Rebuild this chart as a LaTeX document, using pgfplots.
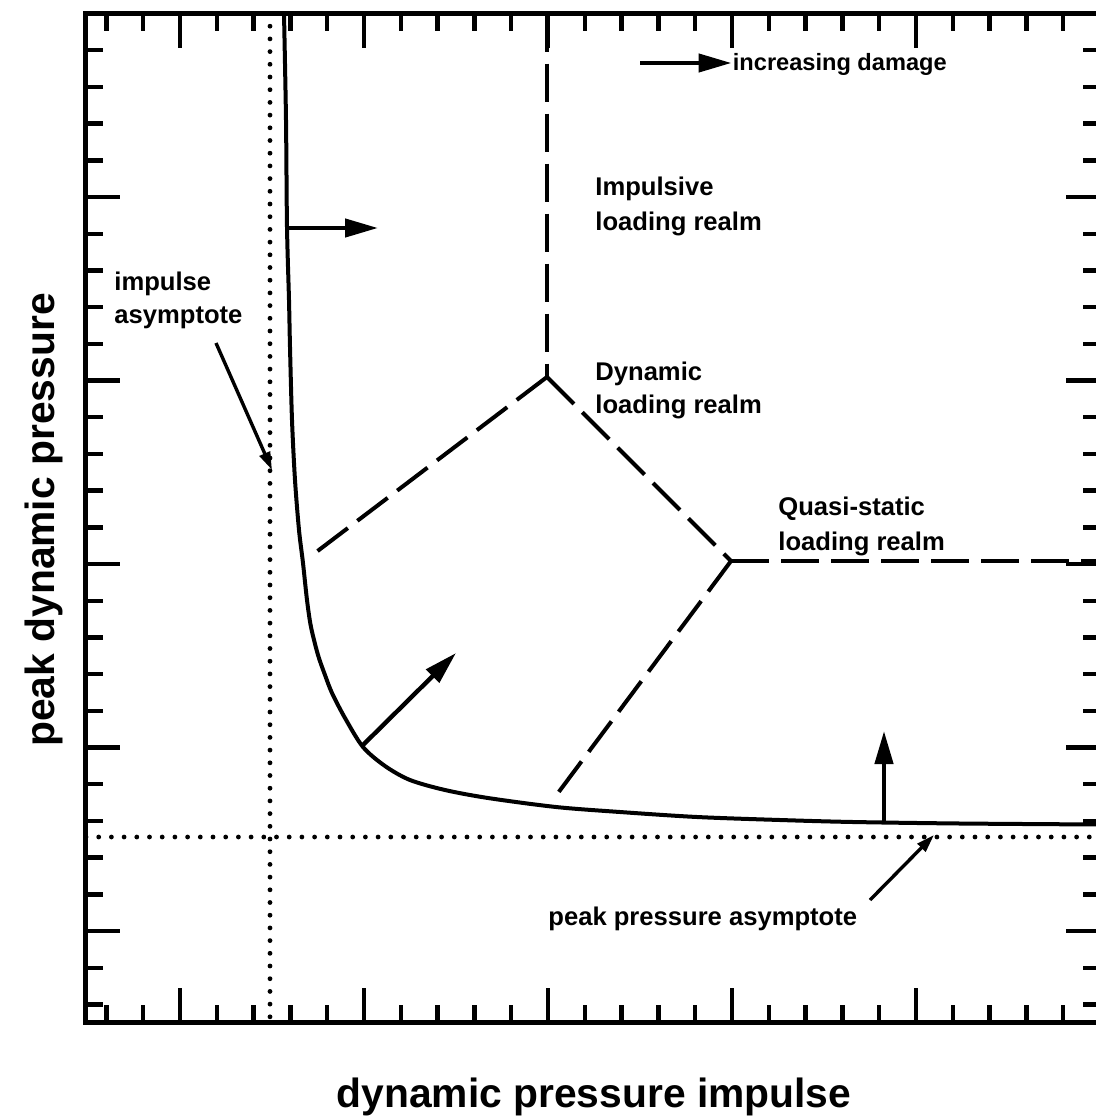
\documentclass[border=0pt]{standalone}
\usepackage{pgfplots}
\pgfplotsset{compat=1.18}
\usepackage{fontspec}
\setmainfont{Liberation Sans}
\usetikzlibrary{arrows.meta}

% drawing units: 1 unit = 0.5pt, y measured downward
\tikzset{
  asym/.style={line width=2.4pt, line cap=round, dash pattern=on 0pt off 6.35pt},
  realm/.style={line width=2pt, dash pattern=on 19pt off 6pt},
  bigarrow/.style={line width=2.2pt, -{Triangle[length=16.5pt,width=9pt]}},
  ptrarrow/.style={line width=1.7pt, -{Triangle[length=9pt,width=5.5pt]}},
  lbl/.style={inner sep=0pt, anchor=base west, font=\bfseries\fontsize{12.8}{15}\selectfont},
}

\begin{document}
\begin{tikzpicture}
\begin{axis}[
  scale only axis,
  width=507pt, height=504.25pt,
  xmin=86, xmax=1100,
  ymin=13.5, ymax=1022,
  y dir=reverse,
  clip=false,
  no markers,
  axis line style={line width=2.5pt},
  xtick={180,364,548,732,916,1100},
  minor xtick={106.4,143.2,216.8,253.6,290.4,327.2,400.8,437.6,474.4,511.2,584.8,621.6,658.4,695.2,768.8,805.6,842.4,879.2,952.8,989.6,1026.4,1063.2},
  ytick={13.5,197,380.5,564,747.5,931},
  minor ytick={50.2,86.9,123.6,160.3,233.7,270.4,307.1,343.8,417.2,453.9,490.6,527.3,600.7,637.4,674.1,710.8,784.2,820.9,857.6,894.3,967.7,1004.4},
  xticklabels={}, yticklabels={},
  tick pos=both,
  tick align=inside,
  major tick length=17pt,
  minor tick length=8.5pt,
  tick style={line width=2.2pt, black},
]

% asymptotes
\addplot[asym] coordinates {(270,13.5) (270,1022)};
\addplot[asym] coordinates {(86,837) (1100,837)};

% pressure-impulse isodamage curve
\addplot[line width=2pt, smooth] coordinates {
  (284,13.5) (286,120) (287,227) (289,300) (290,347) (292,420) (295,480)
  (299,530) (303,563) (307,600) (311,627) (318,655) (325,675) (332,693)
  (345,718) (363,747) (385,766) (410,780) (445,790) (488,798) (556,807)
  (620,812) (697,817) (780,820) (853,822) (960,823.5) (1100,824.5)
};

% loading realm boundaries
\addplot[realm] coordinates {(547,13.5) (547,377)};
\addplot[realm] coordinates {(547,377) (311,556)};
\addplot[realm] coordinates {(547,377) (731,561)};
\addplot[realm] coordinates {(731,561) (1100,561)};
\addplot[realm] coordinates {(731,561) (555,797)};

% direction of increasing damage
\addplot[bigarrow] coordinates {(287,228) (378,228)};
\addplot[bigarrow] coordinates {(363,745) (456,653)};
\addplot[bigarrow] coordinates {(884,822) (884,731)};
\addplot[bigarrow] coordinates {(640,63) (731.5,63)};

% pointers to the asymptotes
\addplot[ptrarrow] coordinates {(216,343) (272,470)};
\addplot[ptrarrow] coordinates {(870,900) (934,835)};

% annotations
\node[lbl, font=\bfseries\fontsize{11.8}{14}\selectfont] at (axis cs:732.5,70) {increasing damage};
\node[lbl] at (axis cs:595,195) {Impulsive};
\node[lbl] at (axis cs:595,230) {loading realm};
\node[lbl] at (axis cs:595,380) {Dynamic};
\node[lbl] at (axis cs:595,413) {loading realm};
\node[lbl] at (axis cs:778,515) {Quasi-static};
\node[lbl] at (axis cs:778,550) {loading realm};
\node[lbl] at (axis cs:114,290) {impulse};
\node[lbl] at (axis cs:114,323) {asymptote};
\node[lbl] at (axis cs:548,925) {peak pressure asymptote};

% axis titles
\node[inner sep=0pt, anchor=base, font=\bfseries\fontsize{20.4}{24}\selectfont]
  at (axis cs:594,1107) {dynamic pressure impulse};
\node[inner sep=0pt, anchor=base, rotate=90, font=\bfseries\fontsize{20.4}{24}\selectfont]
  at (axis cs:55,520) {peak dynamic pressure};

\coordinate (bbBL) at (axis cs:0,1119);
\coordinate (bbTR) at (axis cs:1096,0);
\end{axis}
\pgfresetboundingbox
\path[use as bounding box] (bbBL) rectangle (bbTR);
\end{tikzpicture}
\end{document}
